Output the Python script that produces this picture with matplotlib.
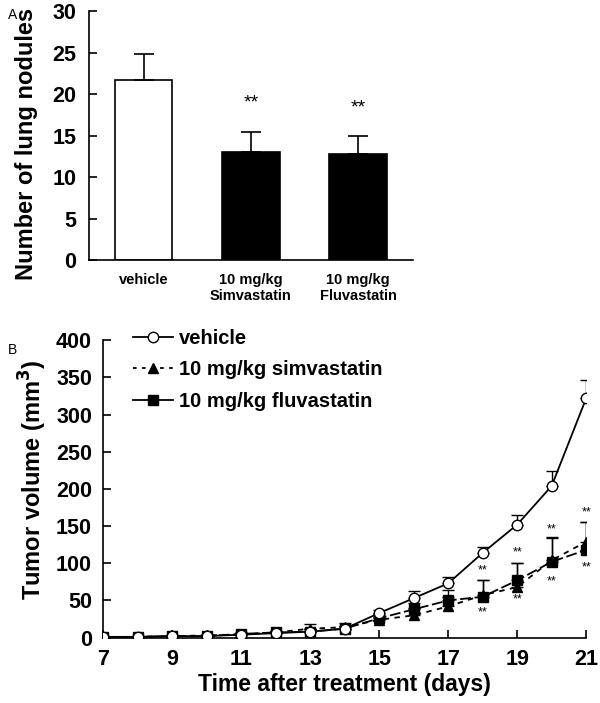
import matplotlib
matplotlib.use('Agg')
import matplotlib.pyplot as plt
from matplotlib.lines import Line2D

plt.rcParams['font.family'] = ['Liberation Sans', 'DejaVu Sans']

# panel A data
groups = ['vehicle', '10 mg/kg\nSimvastatin', '10 mg/kg\nFluvastatin']
nodules = [21.7, 13.0, 12.8]
nodules_err = [3.2, 2.5, 2.2]
bar_colors = ['white', 'black', 'black']
nodule_sig = ['', '**', '**']

# panel B data
days = [7, 8, 9, 10, 11, 12, 13, 14, 15, 16, 17, 18, 19, 20, 21]
vehicle = [1, 1, 2, 2, 4, 6, 8, 12, 33, 53, 73, 114, 152, 204, 322]
vehicle_err = [1, 1, 1, 1, 2, 2, 3, 4, 4, 10, 9, 8, 13, 20, 25]
simva = [1, 1, 2, 3, 4, 7, 12, 14, 24, 30, 42, 57, 68, 104, 129]
simva_err = [1, 1, 1, 1, 2, 2, 6, 5, 4, 10, 12, 20, 32, 30, 27]
fluva = [1, 1, 2, 2, 5, 7, 8, 12, 26, 38, 50, 55, 77, 102, 118]
fluva_err = [1, 1, 1, 1, 2, 2, 3, 4, 4, 8, 14, 22, 23, 33, 37]
sig_days = [18, 19, 20, 21]
sig_above = [90, 114, 145, 168]
sig_below = [34, 52, 75, 95]

fig = plt.figure(figsize=(6, 7.03), dpi=100)

# ---- panel A ----
axA = fig.add_axes([0.148, 0.630, 0.540, 0.354])
x = range(len(groups))
axA.bar(x, nodules, width=0.54, color=bar_colors, edgecolor='black', linewidth=1.2,
        yerr=[[0] * 3, nodules_err], error_kw=dict(ecolor='black', elinewidth=1.2, capsize=7, capthick=1.2))
for i, s in enumerate(nodule_sig):
    if s:
        axA.text(i, nodules[i] + nodules_err[i] + 3.4, s, ha='center', va='center', fontsize=14)
axA.set_xlim(-0.51, 2.51)
axA.set_ylim(0, 30)
axA.set_yticks(range(0, 31, 5))
axA.set_xticks(list(x))
axA.set_xticklabels(groups, fontsize=10.5, fontweight='bold')
axA.tick_params(axis='x', length=0, pad=9)
axA.tick_params(axis='y', direction='in', length=6, width=1.2, labelsize=15.5, pad=9)
for lab in axA.get_yticklabels():
    lab.set_fontweight('bold')
axA.spines['top'].set_visible(False)
axA.spines['right'].set_visible(False)
axA.spines['left'].set_linewidth(1.2)
axA.spines['bottom'].set_linewidth(1.2)
fig.text(0.045, 0.795, 'Number of lung nodules', fontsize=17, fontweight='bold',
         rotation=90, ha='center', va='center')
fig.text(0.013, 0.978, 'A', fontsize=10, va='center')

# ---- panel B ----
axB = fig.add_axes([0.172, 0.093, 0.805, 0.423])
zeros = [0] * len(days)
axB.errorbar(days, vehicle, yerr=[zeros, vehicle_err], color='black', lw=1.3, marker='o',
             ms=7.5, mfc='white', mec='black', mew=1, capsize=4, elinewidth=1, zorder=3)
axB.errorbar(days, simva, yerr=[zeros, simva_err], color='black', lw=1.3, ls=(0, (3, 3)), marker='^',
             ms=7.5, mfc='black', mec='black', capsize=4, elinewidth=1, zorder=2)
axB.errorbar(days, fluva, yerr=[zeros, fluva_err], color='black', lw=1.3, ls=(0, (6, 2)), marker='s',
             ms=7.5, mfc='black', mec='black', capsize=4, elinewidth=1, zorder=2)
for d, ya, yb in zip(sig_days, sig_above, sig_below):
    axB.text(d, ya, '**', ha='center', va='center', fontsize=9)
    axB.text(d, yb, '**', ha='center', va='center', fontsize=9)
axB.set_xlim(7, 21)
axB.set_ylim(0, 400)
axB.set_xticks(range(7, 22, 2))
axB.set_yticks(range(0, 401, 50))
axB.tick_params(direction='in', length=6, width=1.2, labelsize=15.5, pad=8)
for lab in axB.get_xticklabels() + axB.get_yticklabels():
    lab.set_fontweight('bold')
axB.spines['top'].set_visible(False)
axB.spines['right'].set_visible(False)
axB.spines['left'].set_linewidth(1.2)
axB.spines['bottom'].set_linewidth(1.2)
axB.set_xlabel('Time after treatment (days)', fontsize=16.5, fontweight='bold', labelpad=2)
fig.text(0.055, 0.317, 'Tumor volume (mm$^\\mathbf{3}$)', fontsize=17, fontweight='bold',
         rotation=90, ha='center', va='center')
handles = [
    Line2D([], [], color='black', lw=1.3, marker='o', ms=7.5, mfc='white', mec='black'),
    Line2D([], [], color='black', lw=1.3, ls=(0, (2, 3)), marker='^', ms=7.5, mfc='black'),
    Line2D([], [], color='black', lw=1.3, marker='s', ms=7.5, mfc='black'),
]
labels = ['vehicle', '10 mg/kg simvastatin', '10 mg/kg fluvastatin']
axB.legend(handles, labels, loc='upper left', bbox_to_anchor=(0.045, 1.065), frameon=False,
           prop=dict(size=14.5, weight='bold'), handlelength=2.0, handletextpad=0.3,
           labelspacing=0.62, borderaxespad=0)
fig.text(0.013, 0.502, 'B', fontsize=10, va='center')

fig.savefig('out.png', dpi=100)
